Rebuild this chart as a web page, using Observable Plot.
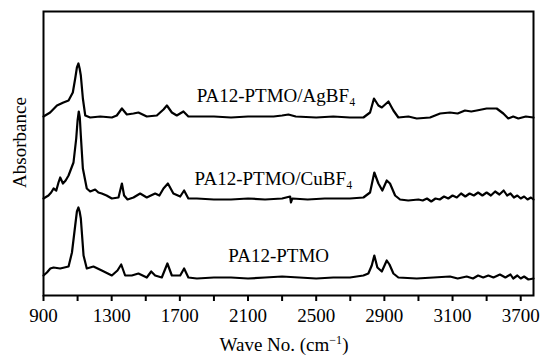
<!DOCTYPE html>
<html>
<head>
<meta charset="utf-8">
<script src="https://cdn.jsdelivr.net/npm/d3@7"></script>
<script src="https://cdn.jsdelivr.net/npm/@observablehq/plot@0.6"></script>
<style>
  html, body { margin: 0; padding: 0; background: #fff; }
  #chart { width: 544px; height: 356px; }
</style>
</head>
<body>
<div id="chart"></div>
<script>
// ---- data (absorbance in arbitrary units, offset per sample) ----
const seriesNames = ["PA12-PTMO/AgBF₄", "PA12-PTMO/CuBF₄", "PA12-PTMO"];

const agWave = [900, 939, 979, 1017, 1047, 1072, 1086, 1096, 1105, 1112, 1119, 1131, 1145, 1174, 1233, 1301, 1330, 1360, 1389, 1428, 1457, 1506, 1565, 1604, 1624, 1653, 1682, 1721, 1750, 1800, 1900, 2000, 2100, 2250, 2300, 2337, 2380, 2500, 2600, 2698, 2777, 2816, 2839, 2865, 2885, 2924, 2953, 2982, 3041, 3090, 3168, 3227, 3285, 3330, 3373, 3410, 3442, 3500, 3559, 3598, 3627, 3656, 3686, 3730, 3775];
const agAbs  = [1.79, 1.83, 1.90, 1.93, 1.95, 2.03, 2.17, 2.28, 2.32, 2.27, 2.20, 1.97, 1.80, 1.78, 1.79, 1.78, 1.80, 1.87, 1.81, 1.82, 1.83, 1.79, 1.80, 1.86, 1.90, 1.83, 1.80, 1.84, 1.79, 1.79, 1.79, 1.78, 1.79, 1.79, 1.80, 1.81, 1.79, 1.78, 1.79, 1.78, 1.78, 1.83, 1.97, 1.90, 1.88, 1.94, 1.85, 1.78, 1.79, 1.77, 1.78, 1.82, 1.83, 1.82, 1.85, 1.84, 1.85, 1.87, 1.87, 1.82, 1.77, 1.79, 1.77, 1.79, 1.78];

const cuWave = [900, 929, 945, 959, 975, 988, 998, 1014, 1030, 1047, 1076, 1092, 1100, 1107, 1113, 1119, 1131, 1154, 1174, 1203, 1222, 1242, 1270, 1301, 1340, 1360, 1373, 1393, 1428, 1467, 1506, 1530, 1555, 1580, 1604, 1630, 1662, 1702, 1725, 1750, 1800, 1900, 2000, 2100, 2200, 2300, 2347, 2352, 2360, 2450, 2550, 2650, 2698, 2777, 2816, 2841, 2865, 2888, 2914, 2933, 2963, 2992, 3040, 3100, 3125, 3150, 3175, 3200, 3225, 3250, 3275, 3300, 3325, 3350, 3375, 3400, 3425, 3450, 3475, 3500, 3525, 3550, 3575, 3600, 3620, 3640, 3660, 3680, 3700, 3720, 3740, 3760, 3775];
const cuAbs  = [0.97, 1.00, 1.03, 1.07, 1.05, 1.13, 1.18, 1.12, 1.15, 1.20, 1.33, 1.57, 1.75, 1.84, 1.78, 1.60, 1.27, 1.07, 1.04, 1.06, 1.03, 1.02, 1.00, 0.97, 0.98, 1.12, 1.00, 0.96, 0.98, 1.02, 0.98, 1.00, 1.02, 1.00, 1.07, 1.12, 1.02, 0.99, 1.05, 0.97, 0.97, 0.96, 0.96, 0.97, 0.96, 0.97, 0.99, 0.93, 0.97, 0.96, 0.97, 0.97, 0.97, 0.98, 1.03, 1.23, 1.12, 1.05, 1.15, 1.12, 1.00, 0.96, 0.95, 0.96, 0.95, 0.97, 0.94, 0.97, 0.96, 0.99, 0.97, 1.00, 0.98, 1.02, 0.99, 1.02, 1.00, 1.03, 1.00, 1.03, 1.00, 1.04, 1.01, 1.05, 1.00, 1.02, 0.98, 1.00, 0.97, 0.99, 0.96, 0.98, 0.96];

const ptWave = [900, 920, 940, 959, 998, 1047, 1067, 1086, 1096, 1105, 1112, 1119, 1135, 1154, 1193, 1242, 1301, 1334, 1356, 1379, 1418, 1457, 1506, 1532, 1555, 1594, 1627, 1653, 1702, 1725, 1750, 1800, 1900, 2000, 2100, 2200, 2300, 2400, 2500, 2600, 2698, 2777, 2806, 2826, 2841, 2859, 2885, 2914, 2930, 2953, 2982, 3090, 3188, 3285, 3330, 3383, 3420, 3450, 3480, 3510, 3540, 3578, 3610, 3640, 3656, 3680, 3700, 3720, 3745, 3775];
const ptAbs  = [0.20, 0.23, 0.27, 0.28, 0.27, 0.29, 0.43, 0.70, 0.84, 0.88, 0.84, 0.77, 0.40, 0.27, 0.29, 0.25, 0.20, 0.25, 0.31, 0.20, 0.20, 0.22, 0.18, 0.24, 0.20, 0.18, 0.32, 0.20, 0.20, 0.27, 0.18, 0.17, 0.18, 0.18, 0.17, 0.18, 0.19, 0.18, 0.17, 0.18, 0.18, 0.20, 0.22, 0.30, 0.40, 0.28, 0.24, 0.35, 0.31, 0.22, 0.18, 0.17, 0.18, 0.19, 0.17, 0.19, 0.17, 0.20, 0.18, 0.20, 0.18, 0.21, 0.18, 0.21, 0.17, 0.20, 0.17, 0.19, 0.16, 0.17];

const tickValues = [900, 1100, 1300, 1500, 1700, 1900, 2100, 2300, 2500, 2700, 2900, 3100, 3300, 3500, 3700];
const tickLabels = ["900", "", "1300", "", "1700", "", "2100", "", "2500", "", "2900", "", "3100", "", "3700"];

const labelWave = [2265, 2250, 2280];

// ---- build ----
const toRows = (ws, as, s) => ws.map((w, i) => ({ w, a: as[i], s }));
const series = [toRows(agWave, agAbs, 0), toRows(cuWave, cuAbs, 1), toRows(ptWave, ptAbs, 2)];
const nearest = (rows, w) => rows.reduce((b, r) => Math.abs(r.w - w) < Math.abs(b.w - w) ? r : b);
const labels = seriesNames.map((name, i) => ({ name, w: labelWave[i], a: nearest(series[i], labelWave[i]).a }));

const fmt = new Map(tickValues.map((v, i) => [v, tickLabels[i]]));
const font = "'Liberation Serif', 'Times New Roman', serif";

const chart = Plot.plot({
  width: 544,
  height: 356,
  marginLeft: 43,
  marginRight: 11,
  marginTop: 11,
  marginBottom: 61,
  style: { fontFamily: font, fontSize: "19px", color: "black", background: "white", overflow: "visible" },
  x: { domain: [900, 3775] },
  y: { domain: [0, 2.84], axis: null },
  marks: [
    Plot.axisX({ ticks: tickValues, tickFormat: d => fmt.get(d), tickSize: 6, tickPadding: 7, strokeWidth: 2, label: null, fontSize: 19 }),
    ...series.map(rows => Plot.line(rows, { x: "w", y: "a", stroke: "black", strokeWidth: 2.2, strokeLinejoin: "round" })),
    Plot.text(labels, { x: "w", y: "a", text: "name", dy: -21, fontSize: 19, fill: "black", lineAnchor: "middle" }),
    Plot.text(["Absorbance"], { frameAnchor: "left", text: d => d, rotate: -90, dx: -24, dy: -11, fontSize: 19, fill: "black", textAnchor: "middle", lineAnchor: "middle" }),
    Plot.frame({ stroke: "black", strokeWidth: 2 })
  ]
});

// x-axis title with a real superscript
const svg = d3.select(chart);
const t = svg.append("text")
  .attr("x", 284).attr("y", 351)
  .attr("text-anchor", "middle")
  .attr("font-family", font).attr("font-size", 19).attr("fill", "black");
t.append("tspan").text("Wave No. (cm");
t.append("tspan").attr("dy", -7).attr("font-size", 12).text("−1");
t.append("tspan").attr("dy", 7).text(")");

document.getElementById("chart").appendChild(chart);
</script>
</body>
</html>
